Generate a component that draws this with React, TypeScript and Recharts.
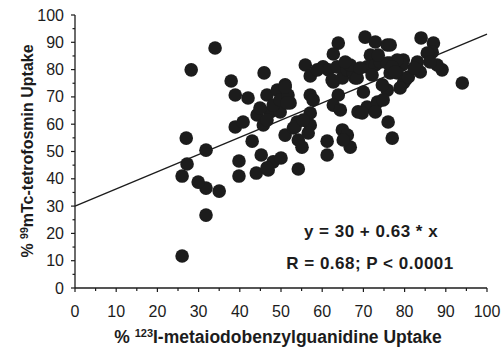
import {
  ScatterChart,
  Scatter,
  XAxis,
  YAxis,
  ReferenceLine,
} from "recharts";

// % 123I-MIBG uptake (x) vs % 99mTc-tetrofosmin uptake (y)
const mibg = [
  26.0, 31.8, 35.0, 31.8, 29.9, 26.0, 27.2, 31.8, 27.0, 38.9, 40.8, 43.0, 39.8, 39.8, 44.0, 45.2,
  46.9, 48.1, 50.0, 46.6, 44.2, 45.7, 51.0, 47.4, 49.8, 34.0, 28.2, 45.9, 37.9, 38.9, 42.0, 46.6,
  49.1, 51.0, 44.9, 48.1, 49.8, 46.6, 51.7, 52.2, 63.9, 62.7, 70.4, 72.9, 75.8, 55.9, 57.1, 60.2,
  62.7, 64.9, 68.0, 71.7, 70.0, 75.8, 57.1, 57.8, 63.9, 62.7, 64.4, 68.7, 70.9, 73.4, 74.8, 57.1,
  54.2, 61.2, 61.2, 54.2, 55.1, 57.1, 53.0, 53.9, 64.9, 66.1, 66.8, 65.1, 72.9, 76.0, 77.0, 51.5,
  51.0, 53.4, 84.0, 87.0, 86.7, 85.5, 94.0, 89.1, 87.9, 86.2, 83.8, 83.1, 79.7, 79.4, 80.2, 79.7,
  76.5, 76.5, 76.5, 78.2, 78.2, 70.9, 72.9, 74.1, 75.8, 77.0, 77.7, 80.9, 61.5, 63.6, 66.1, 67.5,
  68.5, 62.4, 66.8, 69.2, 74.6, 73.6, 78.9, 82.3, 72.1, 65.6, 58.8, 69.7, 55.4, 56.6,
];
const tetrofosmin = [
  11.7, 26.7, 35.5, 36.6, 38.8, 41.0, 45.4, 50.5, 54.9, 59.0, 60.8, 53.8, 46.5, 41.0, 42.1, 48.7,
  43.2, 46.2, 47.6, 44.0, 63.4, 59.7, 56.0, 64.5, 64.5, 87.9, 79.9, 78.8, 75.8, 70.7, 69.6, 70.7,
  72.5, 74.4, 65.9, 67.0, 68.9, 61.5, 70.7, 67.8, 89.7, 85.7, 91.9, 90.1, 89.0, 81.7, 77.7, 81.0,
  75.5, 76.9, 76.9, 85.3, 71.8, 72.5, 70.7, 68.9, 70.7, 67.0, 65.2, 64.5, 66.3, 68.1, 68.9, 64.1,
  43.6, 48.7, 53.8, 54.2, 51.6, 59.7, 58.6, 60.8, 57.9, 56.0, 51.6, 54.2, 64.5, 60.8, 54.9, 67.8,
  73.6, 59.0, 91.6, 89.7, 86.4, 86.1, 75.1, 79.9, 81.7, 82.8, 79.1, 82.8, 83.5, 81.7, 76.2, 75.1,
  89.0, 82.4, 78.8, 78.8, 83.5, 81.0, 81.7, 82.8, 82.4, 81.0, 79.1, 77.3, 79.9, 81.0, 79.9, 79.1,
  76.9, 76.2, 81.7, 80.6, 74.4, 85.3, 73.3, 80.6, 78.0, 82.8, 79.9, 64.1, 61.5, 56.8,
];

const intercept = 30;
const slope = 0.63;
const axisTicks = [0, 5, 10, 15, 20, 25, 30, 35, 40, 45, 50, 55, 60, 65, 70, 75, 80, 85, 90, 95, 100];

const points = mibg.map((x, i) => ({ x, y: tetrofosmin[i] }));

const INK = "#1c1c1c";
const FONT = "Arial, 'Liberation Sans', sans-serif";

function BottomTick({ x, y, payload }: any) {
  const major = payload.value % 10 === 0;
  return (
    <g>
      <line x1={x} x2={x} y1={y} y2={y + (major ? 4 : 3)} stroke={INK} strokeWidth={1.2} />
      {major && (
        <text x={x} y={y + 29} textAnchor="middle" fontSize={16} fill={INK} fontFamily={FONT}>
          {payload.value}
        </text>
      )}
    </g>
  );
}

function LeftTick({ x, y, payload }: any) {
  const major = payload.value % 10 === 0;
  return (
    <g>
      <line x1={x} x2={x - (major ? 4 : 2.5)} y1={y} y2={y} stroke={INK} strokeWidth={1.2} />
      {major && (
        <text x={x - 11} y={y + 5.5} textAnchor="end" fontSize={16} fill={INK} fontFamily={FONT}>
          {payload.value}
        </text>
      )}
    </g>
  );
}

function TopTick({ x, y }: any) {
  return <line x1={x} x2={x} y1={y} y2={y - 4} stroke={INK} strokeWidth={1.2} />;
}

function RightTick({ x, y, payload }: any) {
  const major = payload.value % 10 === 0;
  return <line x1={x} x2={x + (major ? 4 : 3)} y1={y} y2={y} stroke={INK} strokeWidth={1.2} />;
}

function Dot({ cx, cy }: any) {
  return <circle cx={cx} cy={cy} r={6.8} fill={INK} />;
}

export default function App() {
  return (
    <div style={{ position: "absolute", left: 0, top: 0, width: 501, height: 349, background: "#fff" }}>
      <ScatterChart
        width={501}
        height={349}
        margin={{ top: 15, right: 14, bottom: 31, left: 0 }}
      >
        <XAxis
          xAxisId="bottom"
          dataKey="x"
          type="number"
          domain={[0, 100]}
          ticks={axisTicks}
          interval={0}
          height={30}
          tickSize={0}
          tickMargin={0}
          tick={<BottomTick />}
          axisLine={{ stroke: INK, strokeWidth: 1.3 }}
        />
        <XAxis
          xAxisId="top"
          orientation="top"
          type="number"
          domain={[0, 100]}
          ticks={axisTicks}
          interval={0}
          height={0}
          tickSize={0}
          tickMargin={0}
          tick={<TopTick />}
          axisLine={{ stroke: INK, strokeWidth: 1.3 }}
        />
        <YAxis
          yAxisId="left"
          dataKey="y"
          type="number"
          domain={[0, 100]}
          ticks={axisTicks}
          interval={0}
          width={75}
          tickSize={0}
          tickMargin={0}
          tick={<LeftTick />}
          axisLine={{ stroke: INK, strokeWidth: 1.3 }}
        />
        <YAxis
          yAxisId="right"
          orientation="right"
          type="number"
          domain={[0, 100]}
          ticks={axisTicks}
          interval={0}
          width={0}
          tickSize={0}
          tickMargin={0}
          tick={<RightTick />}
          axisLine={{ stroke: INK, strokeWidth: 1.3 }}
        />
        <ReferenceLine
          xAxisId="bottom"
          yAxisId="left"
          segment={[
            { x: 0, y: intercept },
            { x: 100, y: intercept + slope * 100 },
          ]}
          stroke={INK}
          strokeWidth={1.3}
          ifOverflow="visible"
        />
        <Scatter
          xAxisId="bottom"
          yAxisId="left"
          data={points}
          shape={<Dot />}
          isAnimationActive={false}
        />
      </ScatterChart>
      <svg
        width={501}
        height={349}
        style={{ position: "absolute", left: 0, top: 0, pointerEvents: "none" }}
        fontFamily={FONT}
        fill={INK}
        fontWeight="bold"
      >
        <text x={371} y={237} textAnchor="middle" fontSize={17} letterSpacing={0.5}>
          y = 30 + 0.63 * x
        </text>
        <text x={370} y={269} textAnchor="middle" fontSize={17} letterSpacing={0.5}>
          R = 0.68; P &lt; 0.0001
        </text>
        <text x={278} y={343} textAnchor="middle" fontSize={17.5}>
          %{" "}
          <tspan fontSize={11} dy={-6}>
            123
          </tspan>
          <tspan dy={6}>I-metaiodobenzylguanidine Uptake</tspan>
        </text>
        <text
          x={0}
          y={0}
          transform="translate(33,151) rotate(-90)"
          textAnchor="middle"
          fontSize={16}
        >
          %{" "}
          <tspan fontSize={10.5} dy={-5.5}>
            99
          </tspan>
          <tspan dy={5.5}>mTc-tetrofosmin Uptake</tspan>
        </text>
      </svg>
    </div>
  );
}
